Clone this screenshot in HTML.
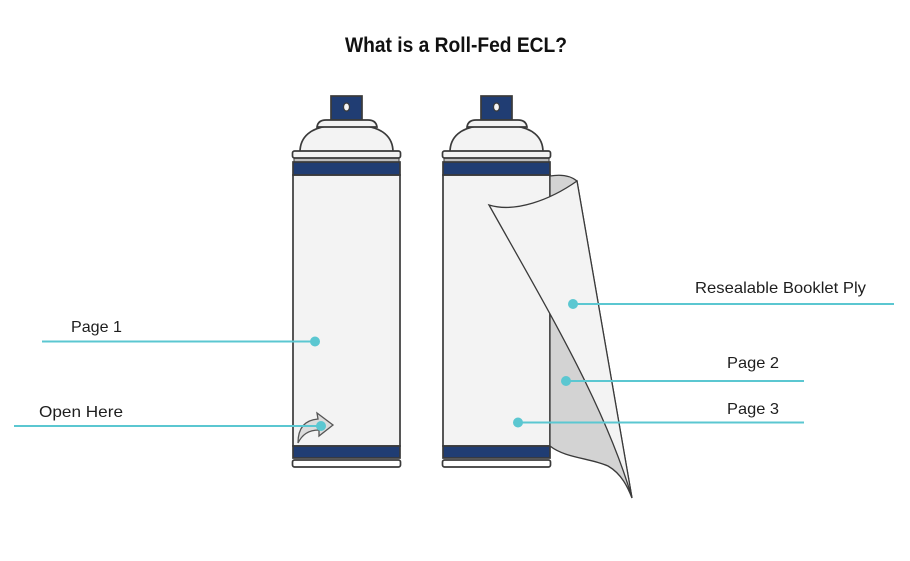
<!DOCTYPE html>
<html>
<head>
<meta charset="utf-8">
<style>
  html,body{margin:0;padding:0;background:#fff;}
  svg{display:block;}
  text{font-family:"Liberation Sans",sans-serif;fill:#1e1e1e;}
</style>
</head>
<body>
<svg width="910" height="561" viewBox="0 0 910 561" xmlns="http://www.w3.org/2000/svg">
  <rect width="910" height="561" fill="#ffffff"/>
  <text x="345" y="52" font-size="21" font-weight="bold" textLength="222" lengthAdjust="spacingAndGlyphs" style="fill:#111">What is a Roll-Fed ECL?</text>

  <!-- LEFT CAN -->
  <g stroke="#3a3a3a" stroke-width="1.7">
    <rect x="331" y="96" width="31" height="24" fill="#203d73"/>
    <ellipse cx="346.5" cy="107" rx="3" ry="4" fill="#f4f4f4" stroke-width="1.2"/>
    <path d="M300,152 C300,136 312,128 328,126 L365,126 C381,128 393,136 393,152 Z" fill="#f3f3f3"/>
    <path d="M317,127 Q318,120 326,120 L368,120 Q376,120 377,127 Z" fill="#f3f3f3"/>
    <rect x="293" y="175" width="107" height="271" fill="#f3f3f3"/>
    <rect x="294" y="157" width="105" height="5" fill="#bdbdbd" stroke-width="1"/>
    <rect x="292.5" y="151" width="108" height="7" rx="2" fill="#f3f3f3"/>
    <rect x="293" y="162" width="107" height="13" fill="#203d73"/>
    <rect x="293" y="446" width="107" height="12" fill="#203d73"/>
    <rect x="292.5" y="460" width="108" height="7" rx="2" fill="#ffffff"/>
    <!-- arrow icon -->
    <path d="M298,443 C298,428 305,420 318,419 L317,413 L333,425 L319,436 L319,430 C308,430 302,435 298,443 Z" fill="#dcdcdc" stroke="#555" stroke-width="1.3"/>
  </g>

  <!-- RIGHT CAN -->
  <g stroke="#3a3a3a" stroke-width="1.7">
    <rect x="481" y="96" width="31" height="24" fill="#203d73"/>
    <ellipse cx="496.5" cy="107" rx="3" ry="4" fill="#f4f4f4" stroke-width="1.2"/>
    <path d="M450,152 C450,136 462,128 478,126 L515,126 C531,128 543,136 543,152 Z" fill="#f3f3f3"/>
    <path d="M467,127 Q468,120 476,120 L518,120 Q526,120 527,127 Z" fill="#f3f3f3"/>
    <rect x="443" y="175" width="107" height="271" fill="#f3f3f3"/>
    <rect x="444" y="157" width="105" height="5" fill="#bdbdbd" stroke-width="1"/>
    <rect x="442.5" y="151" width="108" height="7" rx="2" fill="#f3f3f3"/>
    <rect x="443" y="162" width="107" height="13" fill="#203d73"/>
    <rect x="443" y="446" width="107" height="12" fill="#203d73"/>
    <rect x="442.5" y="460" width="108" height="7" rx="2" fill="#ffffff"/>
    <!-- back of peel -->
    <path d="M550,176 C562,174 571,176 577,181 L632,498 C628,488 622,474 608,466 C590,458 565,458 550,446 Z" fill="#d3d3d3" stroke-width="1.3"/>
    <!-- peeled sheet -->
    <path d="M489,205 C515,213 550,200 577,181 L632,498 C605,405 545,305 489,205 Z" fill="#f3f3f3" stroke-width="1.3"/>
  </g>

  <!-- leader lines -->
  <g stroke="#5bc7d1" stroke-width="2" fill="none">
    <line x1="42" y1="341.5" x2="315" y2="341.5"/>
    <line x1="14" y1="426" x2="321" y2="426"/>
    <line x1="573" y1="304" x2="894" y2="304"/>
    <line x1="566" y1="381" x2="804" y2="381"/>
    <line x1="518" y1="422.5" x2="804" y2="422.5"/>
  </g>
  <g fill="#5bc7d1">
    <circle cx="315" cy="341.5" r="5"/>
    <circle cx="321" cy="426" r="5"/>
    <circle cx="573" cy="304" r="5"/>
    <circle cx="566" cy="381" r="5"/>
    <circle cx="518" cy="422.5" r="5"/>
  </g>

  <!-- labels -->
  <text x="71" y="332" font-size="16" textLength="51" lengthAdjust="spacingAndGlyphs">Page 1</text>
  <text x="39" y="417" font-size="16" textLength="84" lengthAdjust="spacingAndGlyphs">Open Here</text>
  <text x="695" y="293" font-size="16" textLength="171" lengthAdjust="spacingAndGlyphs">Resealable Booklet Ply</text>
  <text x="727" y="368" font-size="16" textLength="52" lengthAdjust="spacingAndGlyphs">Page 2</text>
  <text x="727" y="414" font-size="16" textLength="52" lengthAdjust="spacingAndGlyphs">Page 3</text>
</svg>
</body>
</html>
